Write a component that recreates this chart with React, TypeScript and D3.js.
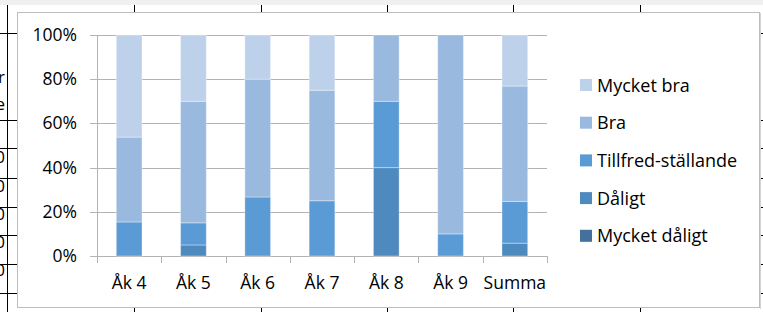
import React, { useEffect, useRef } from 'react';
import * as d3 from 'd3';

const categories = ['Åk 4', 'Åk 5', 'Åk 6', 'Åk 7', 'Åk 8', 'Åk 9', 'Summa'];
const seriesNames = ['Mycket dåligt', 'Dåligt', 'Tillfred-ställande', 'Bra', 'Mycket bra'];
const myckertDaligt = [0, 0, 0, 0, 0, 0, 0];
const daligt = [0, 5, 0, 0, 40, 0, 5.8];
const tillfred = [15.4, 10, 26.7, 25, 30, 10, 18.9];
const bra = [38.4, 55, 53.3, 50, 30, 90, 52.2];
const myckertBra = [46.2, 30, 20, 25, 0, 0, 23.1];
const yTicks = [0, 20, 40, 60, 80, 100];
const colors = ['#41719c', '#4f8abf', '#5b9bd5', '#9ab9df', '#bed1ea'];

// spreadsheet behind the chart
const sheetCols = [7, 134, 261, 387, 513, 640];
const sheetRows = [33, 120, 148, 178, 207, 235, 264, 293];

const App = () => {
    const chartRef = useRef<SVGSVGElement>(null);

    useEffect(() => {
        const svg = d3.select(chartRef.current);
        svg.selectAll('*').remove();

        const W = 763, H = 312;
        const plot = { left: 97, right: 547, top: 35, bottom: 256 };
        const font = '"Open Sans", sans-serif';

        // spreadsheet background
        svg.append('rect').attr('width', W).attr('height', H).attr('fill', '#fff');
        svg.append('rect').attr('width', W).attr('height', 5).attr('fill', '#f0f0f0');
        sheetCols.forEach(c => {
            svg.append('line').attr('x1', c + 0.5).attr('x2', c + 0.5).attr('y1', 5).attr('y2', H)
                .attr('stroke', '#000').attr('stroke-width', 1);
        });
        sheetRows.forEach(r => {
            svg.append('line').attr('x1', 0).attr('x2', W).attr('y1', r + 0.5).attr('y2', r + 0.5)
                .attr('stroke', '#000').attr('stroke-width', 1);
        });
        [77, 104, 157, 186, 214, 242, 270].forEach((r, i) => {
            svg.append('text').attr('x', 5).attr('y', r + 6).attr('text-anchor', 'end')
                .attr('font-family', font).attr('font-size', 17)
                .text(i < 2 ? (i === 0 ? 'r' : 'e') : '0');
        });

        // chart frame
        svg.append('rect').attr('x', 17.5).attr('y', 12.5).attr('width', 742).attr('height', 295)
            .attr('fill', '#fff').attr('stroke', '#bdbdbd');
        svg.append('line').attr('x1', 760.5).attr('x2', 760.5).attr('y1', 13).attr('y2', 309)
            .attr('stroke', '#d4d4d4');

        const x = d3.scaleBand<string>()
            .domain(categories)
            .range([plot.left, plot.right])
            .padding(0);

        const y = d3.scaleLinear()
            .domain([0, 100])
            .range([plot.bottom, plot.top]);

        const g = svg.append('g');

        // gridlines
        g.selectAll('.grid')
            .data(yTicks)
            .enter().append('line')
            .attr('x1', plot.left - 7).attr('x2', plot.right)
            .attr('y1', d => Math.round(y(d)) + 0.5).attr('y2', d => Math.round(y(d)) + 0.5)
            .attr('stroke', '#b3b3b3');

        // Y axis
        g.append('line').attr('x1', plot.left + 0.5).attr('x2', plot.left + 0.5)
            .attr('y1', plot.top).attr('y2', plot.bottom + 1).attr('stroke', '#b3b3b3');
        g.selectAll('.ylab')
            .data(yTicks)
            .enter().append('text')
            .attr('x', 77).attr('y', d => y(d) + 6)
            .attr('text-anchor', 'end')
            .attr('font-family', font).attr('font-size', 17.5).attr('fill', '#000')
            .text(d => `${d}%`);

        // X axis ticks at category boundaries
        const bounds = categories.map(c => x(c) as number).concat([plot.right]);
        g.selectAll('.xtick')
            .data(bounds)
            .enter().append('line')
            .attr('x1', d => Math.round(d) + 0.5).attr('x2', d => Math.round(d) + 0.5)
            .attr('y1', plot.bottom).attr('y2', plot.bottom + 7)
            .attr('stroke', '#b3b3b3');
        g.selectAll('.xlab')
            .data(categories)
            .enter().append('text')
            .attr('x', d => (x(d) as number) + x.bandwidth() / 2)
            .attr('y', 289)
            .attr('text-anchor', 'middle')
            .attr('font-family', font).attr('font-size', 17.5).attr('fill', '#000')
            .text(d => d);

        // Bars
        const rows = categories.map((c, i) => ({
            cat: c,
            [seriesNames[0]]: myckertDaligt[i],
            [seriesNames[1]]: daligt[i],
            [seriesNames[2]]: tillfred[i],
            [seriesNames[3]]: bra[i],
            [seriesNames[4]]: myckertBra[i],
        }));
        const stacked = d3.stack<any>().keys(seriesNames)(rows);
        const barW = x.bandwidth() * 0.4;

        stacked.forEach((layer, si) => {
            g.selectAll(`.bar${si}`)
                .data(layer.filter(d => d[1] - d[0] > 0))
                .enter().append('rect')
                .attr('x', d => (x(d.data.cat) as number) + (x.bandwidth() - barW) / 2)
                .attr('width', barW)
                .attr('y', d => y(d[1]))
                .attr('height', d => y(d[0]) - y(d[1]))
                .attr('fill', colors[si])
                .attr('stroke', '#ffffff')
                .attr('stroke-opacity', 0.35)
                .attr('stroke-width', 1);
        });

        // Legend
        const legend = g.append('g');
        seriesNames.slice().reverse().forEach((name, i) => {
            const ly = 85 + i * 37.7;
            const ci = seriesNames.length - 1 - i;
            legend.append('rect')
                .attr('x', 580).attr('y', ly - 6).attr('width', 12).attr('height', 12)
                .attr('fill', colors[ci]);
            legend.append('text')
                .attr('x', 597).attr('y', ly + 6.5)
                .attr('font-family', font).attr('font-size', 18).attr('fill', '#000')
                .text(name);
        });
    }, []);

    return (
        <svg ref={chartRef} width={763} height={312}
            style={{ position: 'absolute', left: 0, top: 0, display: 'block' }}></svg>
    );
};

export default App;
